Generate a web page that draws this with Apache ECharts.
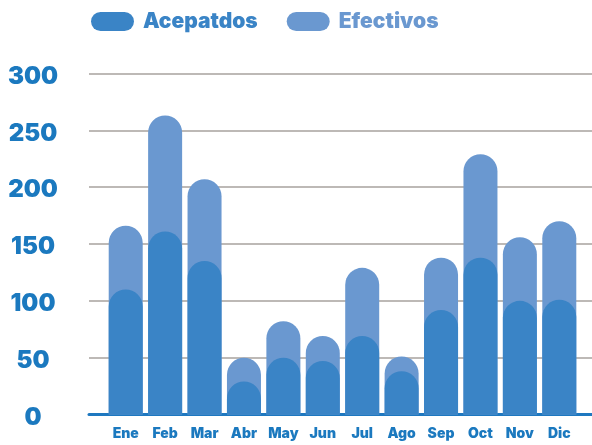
<!DOCTYPE html>
<html><head><meta charset="utf-8">
<script src="https://cdn.jsdelivr.net/npm/echarts@6/dist/echarts.min.js"></script>
<style>html,body{margin:0;padding:0;background:#fff}#c{width:592px;height:445px}</style>
</head><body><div id="c"></div>
<script>
const months = ['Ene','Feb','Mar','Abr','May','Jun','Jul','Ago','Sep','Oct','Nov','Dic'];
const aceptados = [110, 161, 135, 29, 50, 47, 69, 38, 92, 138, 100, 101];
const efectivos = [166, 263, 207, 50, 82, 69, 129, 51, 138, 229, 156, 170];
const yTicks = [0, 50, 100, 150, 200, 250, 300];

const cAcep = '#3a84c6';
const cEfec = '#6a98d0';
const cText = '#1b79bf';
const font = 'Inter';
const pill = 'path://M9.5,0 H33.5 A9.5,9.5 0 0 1 33.5,19 H9.5 A9.5,9.5 0 0 1 9.5,0 Z';

const chart = echarts.init(document.getElementById('c'), null, {renderer:'canvas'});
chart.setOption({
  animation: false,
  legend: {
    data: [{name:'Acepatdos', icon: pill, textStyle:{color:cAcep}}, {name:'Efectivos', icon: pill, textStyle:{color:cEfec}}],
    left: 91, top: 11, padding: 0, itemWidth: 43, itemHeight: 19, itemGap: 29,
    textStyle: {fontFamily: font, fontWeight: 900, fontSize: 21, padding:[0,0,0,4]}
  },
  grid: [
    {left: 89, right: 0, top: 73.5, bottom: 30.5},
    {left: 106, right: 13, top: 73.5, bottom: 30.5}
  ],
  xAxis: [
    {gridIndex: 0, type: 'category', data: [''], axisTick:{show:false}, axisLabel:{show:false},
     axisLine:{show:true, lineStyle:{color:'#1e78c0', width:3}}},
    {gridIndex: 1, type: 'category', data: months, axisTick:{show:false},
     axisLine:{show:false},
     axisLabel:{interval:0, color:cText, fontFamily:font, fontWeight:900, fontSize:14, margin:12}}
  ],
  yAxis: [
    {gridIndex: 0, type:'value', min:0, max:300, interval:50,
     axisLine:{show:false}, axisTick:{show:false},
     splitLine:{lineStyle:{color:'#bdb9b6', width:2}},
     axisLabel:{color:cText, fontFamily:font, fontWeight:900, fontSize:24, align:'center', margin:56,
       verticalAlign:'top', padding:[-9,0,0,0],
       formatter: v => yTicks.includes(v) ? String(v) : ''}},
    {gridIndex: 1, type:'value', min:0, max:300, interval:50, show:false}
  ],
  series: [
    {name:'Efectivos', type:'bar', xAxisIndex:1, yAxisIndex:1, data: efectivos, barWidth: 34, barGap:'-100%',
     itemStyle:{color:cEfec, borderRadius:[17,17,0,0]}},
    {name:'Acepatdos', type:'bar', xAxisIndex:1, yAxisIndex:1, data: aceptados, barWidth: 34, barGap:'-100%',
     itemStyle:{color:cAcep, borderRadius:[17,17,0,0]}, z: 3}
  ]
});
</script></body></html>
